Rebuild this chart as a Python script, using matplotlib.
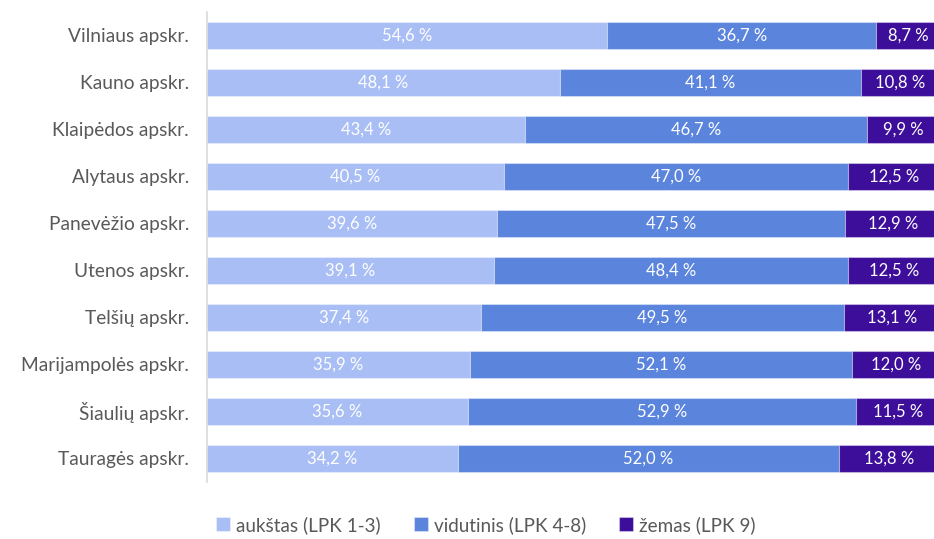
import numpy as np
import matplotlib.pyplot as plt

plt.rcParams['font.family'] = ['Lato', 'DejaVu Sans']

# apskritys (iš viršaus į apačią)
regions = ['Vilniaus apskr.', 'Kauno apskr.', 'Klaipėdos apskr.', 'Alytaus apskr.',
           'Panevėžio apskr.', 'Utenos apskr.', 'Telšių apskr.', 'Marijampolės apskr.',
           'Šiaulių apskr.', 'Tauragės apskr.']
high = [54.6, 48.1, 43.4, 40.5, 39.6, 39.1, 37.4, 35.9, 35.6, 34.2]
mid = [36.7, 41.1, 46.7, 47.0, 47.5, 48.4, 49.5, 52.1, 52.9, 52.0]
low = [8.7, 10.8, 9.9, 12.5, 12.9, 12.5, 13.1, 12.0, 11.5, 13.8]
series_names = ['aukštas (LPK 1-3)', 'vidutinis (LPK 4-8)', 'žemas (LPK 9)']
colors = ['#A9BEF5', '#5B84DD', '#3D0E9A']


def fmt(v):
    return f'{v:.1f} %'.replace('.', ',')


fig = plt.figure(figsize=(9.34, 5.39), dpi=100)
# dešinysis kraštas šiek tiek už paveikslo ribų, kaip originale
ax = fig.add_axes([0.2216, 0.106, 0.7848, 0.872])

y = np.arange(len(regions))
left = np.zeros(len(regions))
for vals, name, col in zip([high, mid, low], series_names, colors):
    vals = np.array(vals)
    bars = ax.barh(y, vals, left=left, height=0.57, color=col, label=name,
                   edgecolor=(1, 1, 1, 0.35), linewidth=0.8)
    ax.bar_label(bars, labels=[fmt(v) for v in vals], label_type='center',
                 color='white', fontsize=12, clip_on=False)
    left = left + vals

ax.set_xlim(0, 100)
ax.set_ylim(len(regions) - 0.5, -0.5)
ax.set_yticks(y)
ax.set_yticklabels(regions, fontsize=13.8, color='#595959')
ax.tick_params(axis='y', length=0, pad=13)
ax.set_xticks([])
for s in ['top', 'right', 'bottom']:
    ax.spines[s].set_visible(False)
ax.spines['left'].set_color('#D9D9D9')
ax.spines['left'].set_linewidth(1.2)

fig.legend(loc='lower center', bbox_to_anchor=(0.52, -0.022), ncol=3, frameon=False,
           fontsize=13.6, handlelength=0.75, handleheight=0.75, handletextpad=0.3,
           columnspacing=1.75, labelcolor='#595959')

fig.savefig('out.png', dpi=100)
